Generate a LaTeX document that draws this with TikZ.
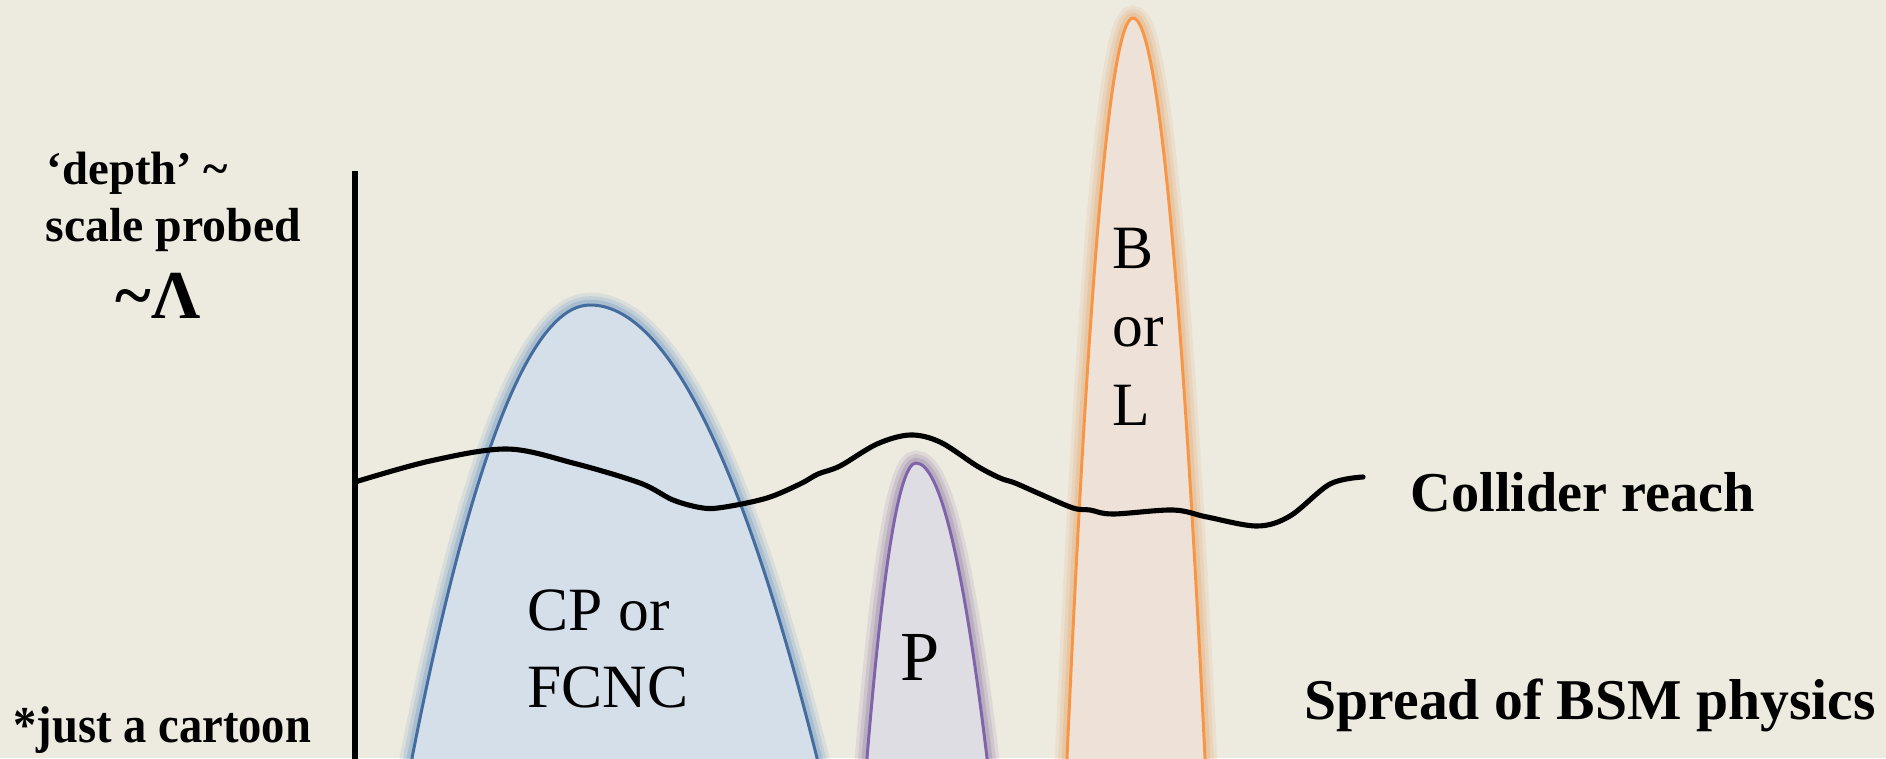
\documentclass[tikz,border=0pt]{standalone}
\usepackage{fontspec}
\setmainfont{Liberation Serif}
\newfontfamily\gfam{Liberation Serif}[FakeStretch=0.9]
\definecolor{bg}{RGB}{237,235,224}
\definecolor{bluefill}{RGB}{213,223,233}
\definecolor{blueline}{RGB}{68,108,158}
\definecolor{blueglow}{RGB}{79,129,189}
\definecolor{purpfill}{RGB}{223,221,228}
\definecolor{purpline}{RGB}{128,100,170}
\definecolor{purpglow}{RGB}{118,92,150}
\definecolor{orfill}{RGB}{237,225,216}
\definecolor{orline}{RGB}{247,150,70}
\definecolor{orglow}{RGB}{225,150,85}
\tikzset{
  bl/.style={anchor=base west, inner sep=0pt, font=\bfseries\fontsize{#1}{#1}\selectfont},
  bc/.style={anchor=base west, inner sep=0pt, font=\gfam\bfseries\fontsize{#1}{#1}\selectfont},
  rl/.style={anchor=base west, inner sep=0pt, font=\fontsize{#1}{#1}\selectfont},
  rim/.style={draw=#1, line width=0.85pt},
  reach/.style={draw=black, line width=1.45pt, line cap=round, line join=round},
  axisline/.style={draw=black, line width=1.7pt}
}
\newcommand{\glowit}[2]{%
  \foreach \w/\o in {7/0.12,5/0.16,3/0.22}{\draw[#1, line width=\w pt, draw opacity=\o] #2;}}
\def\bluepk{(412,790) -- (412,758) .. controls (471.3,456) and (530.7,305) .. (590,305) .. controls (665.7,305) and (741.3,456) .. (817,758) -- (817,790)}
\def\purppk{(867,790) -- (867,758) .. controls (883.3,561.3) and (899.7,463) .. (916,463) .. controls (939.7,463) and (963.3,561.3) .. (987,758) -- (987,790)}
\def\orpk{(1067,790) -- (1067,758) .. controls (1089,264.7) and (1111,18) .. (1133,18) .. controls (1157,18) and (1181,264.7) .. (1205,758) -- (1205,790)}
\begin{document}
\begin{tikzpicture}[x=0.01cm,y=-0.01cm]
\path[use as bounding box] (0,0) rectangle (1886,758);
\fill[bg] (0,0) rectangle (1886,758);
\clip (0,0) rectangle (1886,758);
% peaks
\glowit{blueglow}{\bluepk}
\fill[bluefill] \bluepk;
\draw[rim=blueline] \bluepk;
\glowit{purpglow}{\purppk}
\fill[purpfill] \purppk;
\draw[rim=purpline] \purppk;
\glowit{orglow}{\orpk}
\fill[orfill] \orpk;
\draw[rim=orline] \orpk;
% collider reach curve
\draw[reach] plot[smooth, tension=0.55] coordinates {(355,482) (430,461) (507,449) (573,463) (640,483) (673,500) (703,508) (725,507) (767,498) (800,484) (818,474) (840,466) (877,444) (910,435) (940,442) (977,466) (1000,478) (1015,483) (1040,494) (1073,508) (1090,510) (1113,514) (1173,510) (1207,517) (1257,526) (1290,516) (1330,484) (1363,477)};
% axis
\coordinate (axtop) at (355,171);
\coordinate (axbot) at (355,770);
\draw[axisline] (axtop) -- (axbot);
% labels
\node[bl=13.3] (depth) at (46,185) {‘depth’ \textasciitilde};
\node[bl=13.6] (scale) at (45,242) {scale probed};
\node[bl=19.5] (lam) at (115,318) {\textasciitilde Λ};
\node[bc=14.7] (cartoon) at (13,742) {*just a cartoon};
\node[bl=16] (collider) at (1410,511) {Collider reach};
\node[bl=16.4] (spread) at (1304,719) {Spread of BSM physics};
\node[rl=17.5] (cp) at (527,630) {CP or};
\node[rl=17.5] (fcnc) at (527,707) {FCNC};
\node[rl=20] (p) at (900,680) {P};
\node[rl=17.5] (b) at (1112,269) {B};
\node[rl=17.5] (or) at (1112,347) {or};
\node[rl=17.5] (l) at (1112,425) {L};
\end{tikzpicture}
\end{document}
